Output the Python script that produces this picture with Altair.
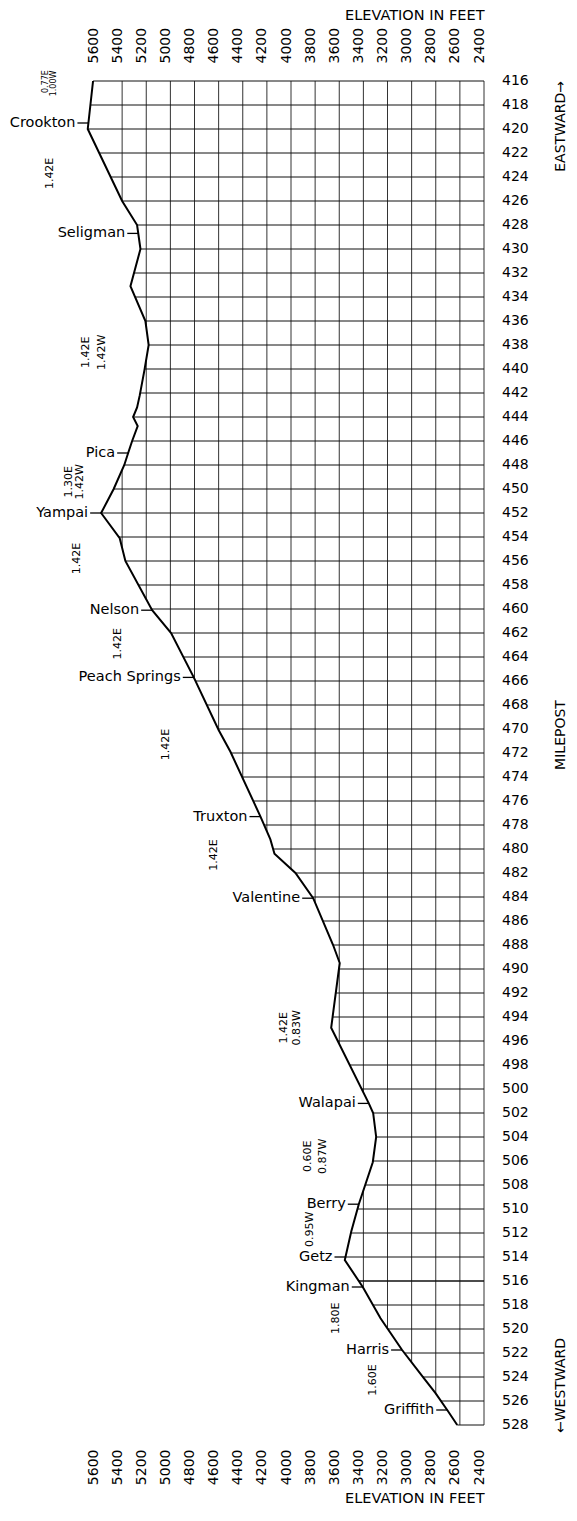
import altair as alt
import numpy as np
import pandas as pd

# ---------------- data ----------------
PROFILE_MILE = [416.0, 420.0, 426.0, 428.0, 430.0, 433.1, 436.0, 438.0, 440.1, 442.2,
                443.2, 444.0, 444.75, 446.0, 447.0, 448.0, 450.0, 452.0, 454.1, 456.0,
                460.1, 462.0, 465.7, 470.1, 471.9, 477.3, 479.2, 480.4, 482.0, 484.1,
                488.0, 489.5, 494.9, 501.2, 502.0, 504.0, 506.1, 509.6, 511.9, 514.25,
                516.5, 519.1, 521.75, 524.1, 525.35, 526.75, 528.0]
PROFILE_ELEV = [5641, 5685, 5400, 5276, 5248, 5331, 5207, 5180, 5215, 5254,
                5276, 5309, 5271, 5317, 5350, 5382, 5470, 5574, 5420, 5373,
                5151, 4994, 4806, 4599, 4502, 4253, 4171, 4137, 3963, 3816,
                3651, 3596, 3667, 3355, 3319, 3294, 3322, 3438, 3501, 3554,
                3405, 3258, 3079, 2899, 2802, 2705, 2622]

STATION_NAMES = ["Crookton", "Seligman", "Pica", "Yampai", "Nelson", "Peach Springs",
                 "Truxton", "Valentine", "Walapai", "Berry", "Getz", "Kingman",
                 "Harris", "Griffith"]
STATION_MILES = [419.5, 428.7, 447.0, 452.0, 460.1, 465.7, 477.3, 484.1, 501.2,
                 509.6, 514.0, 516.5, 521.75, 526.75]

GRADE_TEXT = ["0.77E", "1.00W", "1.42E", "1.42E", "1.42W", "1.30E", "1.42W", "1.42E",
              "1.42E", "1.42E", "1.42E", "1.42E", "0.83W", "0.60E", "0.87W", "0.95W",
              "1.80E", "1.60E"]
GRADE_MILE = [416.05, 416.2, 423.7, 438.6, 438.6, 449.4, 449.4, 455.8, 462.9, 471.3,
              480.5, 494.9, 494.9, 505.6, 505.6, 511.7, 519.1, 524.25]
GRADE_ELEV = [6030, 5962, 5995, 5700, 5569, 5839, 5753, 5773, 5435, 5033,
              4641, 4060, 3949, 3857, 3735, 3839, 3625, 3320]

ELEV_TICKS = list(range(5600, 2399, -200))
MILE_TICKS = list(range(416, 529, 2))
ELEV_MIN, ELEV_MAX = 2400, 5600
MILE_MIN, MILE_MAX = 416, 528
DIVISION_MILE = 516
DIRECTIONS = ["EASTWARD\u2192", "\u2190WESTWARD"]
MILEPOST_TITLE = "MILEPOST"
MILEPOST_TITLE_AT = 470.5

# ---------------- derived tables ----------------
W, H = 386, 1344
FONT = "DejaVu Sans"
SIDE_X = W + 77

prof = pd.DataFrame({"mile": PROFILE_MILE, "elev": PROFILE_ELEV})
stations = pd.DataFrame({
    "name": STATION_NAMES,
    "mile": STATION_MILES,
    "elev": np.interp(STATION_MILES, PROFILE_MILE, PROFILE_ELEV),
})


def inside_intervals(e):
    """Mile ranges where the vertical grid line at elevation e lies right of the profile."""
    out = []
    for i in range(len(PROFILE_MILE) - 1):
        ma, mb = PROFILE_MILE[i], PROFILE_MILE[i + 1]
        ea, eb = PROFILE_ELEV[i], PROFILE_ELEV[i + 1]
        ia, ib = ea >= e, eb >= e
        if ia and ib:
            seg = (ma, mb)
        elif ia:
            t = (ea - e) / (ea - eb)
            seg = (ma, ma + t * (mb - ma))
        elif ib:
            t = (e - ea) / (eb - ea)
            seg = (ma + t * (mb - ma), mb)
        else:
            continue
        if out and abs(out[-1][1] - seg[0]) < 1e-9:
            out[-1] = (out[-1][0], seg[1])
        else:
            out.append(seg)
    return out


vrows = []
for e in ELEV_TICKS:
    if e >= ELEV_MAX:
        continue
    for m0, m1 in inside_intervals(e):
        vrows.append({"elev": e, "m0": m0, "m1": m1})
vgrid = pd.DataFrame(vrows)

hgrid = pd.DataFrame({"mile": MILE_TICKS,
                      "e0": np.interp(MILE_TICKS, PROFILE_MILE, PROFILE_ELEV)})
hgrid["e1"] = ELEV_MIN
hgrid["label"] = [str(m) for m in MILE_TICKS]
grades = pd.DataFrame({"text": GRADE_TEXT, "mile": GRADE_MILE, "elev": GRADE_ELEV})
dirs = pd.DataFrame({"text": DIRECTIONS, "mile": [MILE_MIN, MILE_MAX]})
mp = pd.DataFrame({"text": [MILEPOST_TITLE], "mile": [MILEPOST_TITLE_AT]})

xs = alt.Scale(domain=[ELEV_MIN, ELEV_MAX], reverse=True, nice=False, zero=False)
ys = alt.Scale(domain=[MILE_MIN, MILE_MAX], reverse=True, nice=False, zero=False)

common_x_axis = dict(values=ELEV_TICKS, format="d", labelAngle=270,
                     labelBaseline="middle", labelOffset=-5, ticks=False, tickSize=0,
                     domain=False, grid=False, labelFlush=False, labelOverlap=False,
                     labelFont=FONT, labelFontSize=14, labelColor="black",
                     title="ELEVATION IN FEET", titleFont=FONT, titleFontSize=14.5,
                     titleFontWeight="normal", titleColor="black", titleAnchor="end",
                     titleAlign="right", titleBaseline="alphabetic", titleAngle=0,
                     titleX=W)
top_axis = alt.Axis(orient="top", labelAlign="left", labelPadding=18, titleY=-62,
                    **common_x_axis)
bottom_axis = alt.Axis(orient="bottom", labelAlign="right", labelPadding=24, titleY=77,
                       **common_x_axis)


def X(field, axis=None):
    return alt.X(field, type="quantitative", scale=xs, axis=axis)


def Y(field):
    return alt.Y(field, type="quantitative", scale=ys, axis=None)


vg = alt.Chart(vgrid).mark_rule(color="#333333", strokeWidth=1).encode(
    x=X("elev", top_axis), y=Y("m0"), y2="m1:Q")

hg = alt.Chart(hgrid).mark_rule(color="#111111").encode(
    x=X("e0", bottom_axis), x2="e1:Q", y=Y("mile"),
    strokeWidth=alt.condition(alt.datum.mile == DIVISION_MILE, alt.value(1.7), alt.value(1)))

ylab = alt.Chart(hgrid).mark_text(align="left", baseline="middle", font=FONT,
                                  fontSize=14, color="black").encode(
    x=alt.value(W + 18), y=Y("mile"), text="label:N")

pl = alt.Chart(prof).mark_line(color="black", strokeWidth=2).encode(
    x=X("elev"), y=Y("mile"), order="mile:Q")

tk = alt.Chart(stations).mark_rule(color="black", strokeWidth=1.3, x2Offset=-11).encode(
    x=X("elev"), x2="elev:Q", y=Y("mile"))

tl = alt.Chart(stations).mark_text(align="right", baseline="middle", dx=-13, font=FONT,
                                   fontSize=14.5, color="black").encode(
    x=X("elev"), y=Y("mile"), text="name:N")

gl = alt.Chart(grades.iloc[2:]).mark_text(angle=270, align="center", baseline="middle",
                                          font=FONT, fontSize=11, color="black").encode(
    x=X("elev"), y=Y("mile"), text="text:N")

gs = alt.Chart(grades.iloc[:2]).mark_text(angle=270, align="center", baseline="middle",
                                          font=FONT, fontSize=8, color="black").encode(
    x=X("elev"), y=Y("mile"), text="text:N")

east = alt.Chart(dirs.iloc[[0]]).mark_text(angle=270, align="right", baseline="middle",
                                           font=FONT, fontSize=14, color="black").encode(
    x=alt.value(SIDE_X), y=Y("mile"), text="text:N")

west = alt.Chart(dirs.iloc[[1]]).mark_text(angle=270, align="left", baseline="middle",
                                           dx=-8, font=FONT, fontSize=14,
                                           color="black").encode(
    x=alt.value(SIDE_X), y=Y("mile"), text="text:N")

mpt = alt.Chart(mp).mark_text(angle=270, align="center", baseline="middle", font=FONT,
                              fontSize=14, color="black").encode(
    x=alt.value(SIDE_X), y=Y("mile"), text="text:N")

chart = alt.layer(vg, hg, ylab, pl, tk, tl, gl, gs, east, west, mpt).resolve_axis(
    x="independent"
).properties(
    width=W, height=H,
    padding={"left": 90, "top": 73, "right": 85, "bottom": 82},
    autosize=alt.AutoSizeParams(type="none"),
    background="white",
).configure_view(stroke=None)

chart.save("out.html", embed_options={"renderer": "svg", "actions": False})
